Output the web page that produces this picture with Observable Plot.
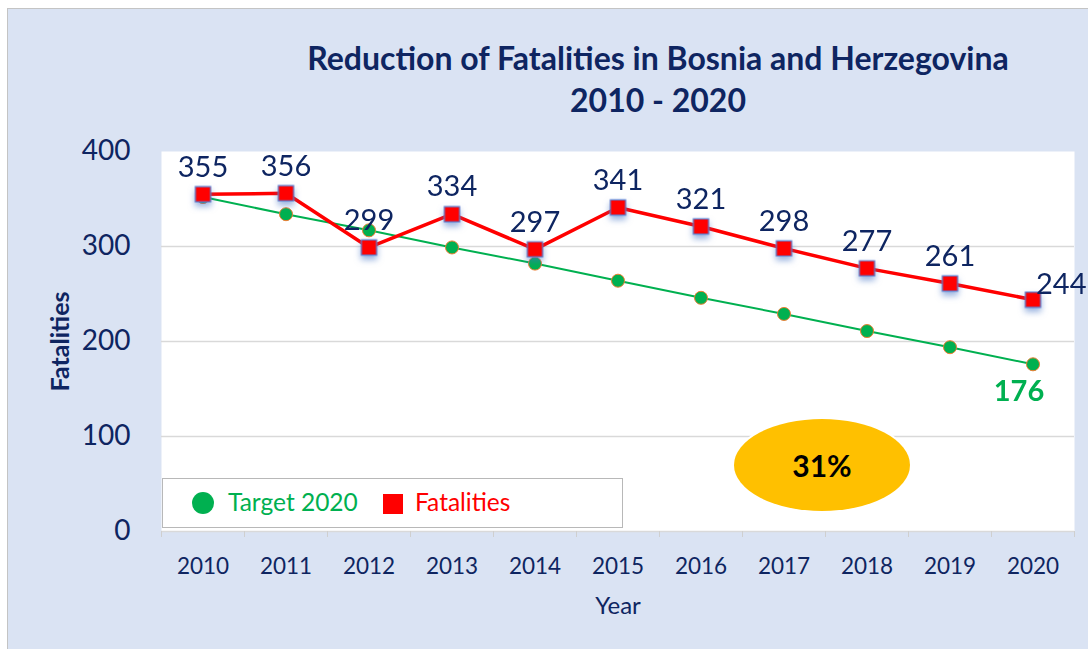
<!DOCTYPE html>
<html>
<head>
<meta charset="utf-8">
<script src="https://cdn.jsdelivr.net/npm/d3@7"></script>
<script src="https://cdn.jsdelivr.net/npm/@observablehq/plot@0.6"></script>
<style>
  html, body { margin: 0; padding: 0; background: #ffffff; }
  body { position: relative; width: 1088px; height: 649px; overflow: hidden; font-family: Lato, "Open Sans", sans-serif; }
  #wrap { position: absolute; left: 7px; top: 8px; width: 1081px; height: 641px; background: #dae3f3;
          border-left: 1px solid #c4c4c4; border-top: 1px solid #c4c4c4; box-sizing: border-box; }
  #title { height: 130px; box-sizing: border-box; padding-top: 28px; padding-left: 220px; text-align: center;
           font-weight: bold; font-size: 32px; line-height: 42px; color: #0e2561; white-space: nowrap; }
  #chart svg { display: block; }
  .sq { filter: drop-shadow(0px 4px 3px rgba(68,114,196,0.55)); }
  #legend { position: absolute; left: 162px; top: 478px; width: 461px; height: 50px; box-sizing: border-box;
            background: #fff; border: 1.5px solid #b8b8b8; }
  #legend .c { position: absolute; left: 29px; top: 13px; width: 22px; height: 22px; border-radius: 50%; background: #00b050; }
  #legend .t1 { position: absolute; left: 65px; top: 9px; font-size: 24.5px; line-height: 28px; color: #00b050; }
  #legend .s { position: absolute; left: 220px; top: 15px; width: 20px; height: 20px; background: #ff0000; }
  #legend .t2 { position: absolute; left: 252px; top: 9px; font-size: 24.5px; line-height: 28px; color: #ff0000; }
  #ell { position: absolute; left: 734px; top: 419px; width: 176px; height: 92px; border-radius: 50%;
         background: #ffc000; color: #000; font-weight: bold; font-size: 30px; line-height: 92px; text-align: center;
         box-shadow: 0 0 0 2px #ffffff; }
</style>
</head>
<body>
<div id="wrap">
  <div id="title">Reduction of Fatalities in Bosnia and Herzegovina<br>2010 - 2020</div>
  <div id="chart"></div>
</div>
<div id="legend"><div class="c"></div><div class="t1">Target 2020</div><div class="s"></div><div class="t2">Fatalities</div></div>
<div id="ell">31%</div>
<script>
const years = [2010, 2011, 2012, 2013, 2014, 2015, 2016, 2017, 2018, 2019, 2020];
const fatalities = [355, 356, 299, 334, 297, 341, 321, 298, 277, 261, 244];
const target = [352, 334, 317, 299, 282, 264, 246, 229, 211, 194, 176];
const yTicks = [0, 100, 200, 300, 400];
const gridLines = [0, 100, 200, 300];
const yLabel = "Fatalities";
const xLabel = "Year";

const navy = "#0e2561";
const data = years.map((year, i) => ({year, fatalities: fatalities[i], target: target[i]}));
const boundaries = years.map(y => y - 0.5).concat([years[years.length - 1] + 0.5]);
const last = data[data.length - 1];
const rest = data.slice(0, -1);

const chart = Plot.plot({
  width: 1080,
  height: 510,
  marginLeft: 153,
  marginRight: 14,
  marginTop: 12,
  marginBottom: 118,
  style: {background: "transparent", fontFamily: "Lato, 'Open Sans', sans-serif", color: navy, overflow: "visible"},
  x: {domain: [boundaries[0], boundaries[boundaries.length - 1]]},
  y: {domain: [0, 400]},
  marks: [
    Plot.frame({fill: "white", stroke: null}),
    Plot.ruleY(gridLines, {stroke: "#d9d9d9", strokeWidth: 1.5}),
    Plot.axisX({ticks: boundaries, tickFormat: () => "", tickSize: 6, stroke: "#cfcfcf", label: null}),
    Plot.axisX({ticks: years, tickFormat: d => String(d), tickSize: 0, tickPadding: 27, fontSize: 22.5, fill: navy, label: null}),
    Plot.axisY({ticks: yTicks, tickSize: 0, tickPadding: 31, fontSize: 28, fill: navy, label: null}),
    Plot.text([yLabel], {frameAnchor: "left", dx: -101, rotate: -90, textAnchor: "middle", lineAnchor: "middle", fontSize: 25, fontWeight: "bold", fill: navy}),
    Plot.text([xLabel], {frameAnchor: "bottom", dy: 75, textAnchor: "middle", lineAnchor: "middle", fontSize: 24, fill: navy}),
    Plot.line(data, {x: "year", y: "target", stroke: "#00b050", strokeWidth: 2}),
    Plot.line(data, {x: "year", y: "fatalities", stroke: "#ff0000", strokeWidth: 3.5}),
    Plot.dot(data, {x: "year", y: "target", r: 6.5, fill: "#00b050", stroke: "#ed7d31", strokeWidth: 1}),
    Plot.dot(data, {x: "year", y: "fatalities", symbol: "square", r: 8.6, fill: "#ff0000", stroke: "#5b7fd0", strokeWidth: 1.2, className: "sq"}),
    Plot.text(rest, {x: "year", y: "fatalities", text: d => String(d.fatalities), dy: -27, fontSize: 29, fill: navy}),
    Plot.text([last], {x: "year", y: "fatalities", text: d => String(d.fatalities), dy: -15, dx: 3, textAnchor: "start", fontSize: 29, fill: navy}),
    Plot.text([last], {x: "year", y: "target", text: d => String(d.target), dy: 27, dx: -14, fontSize: 29, fontWeight: "bold", fill: "#00b050"})
  ]
});
document.getElementById("chart").appendChild(chart);
</script>
</body>
</html>
